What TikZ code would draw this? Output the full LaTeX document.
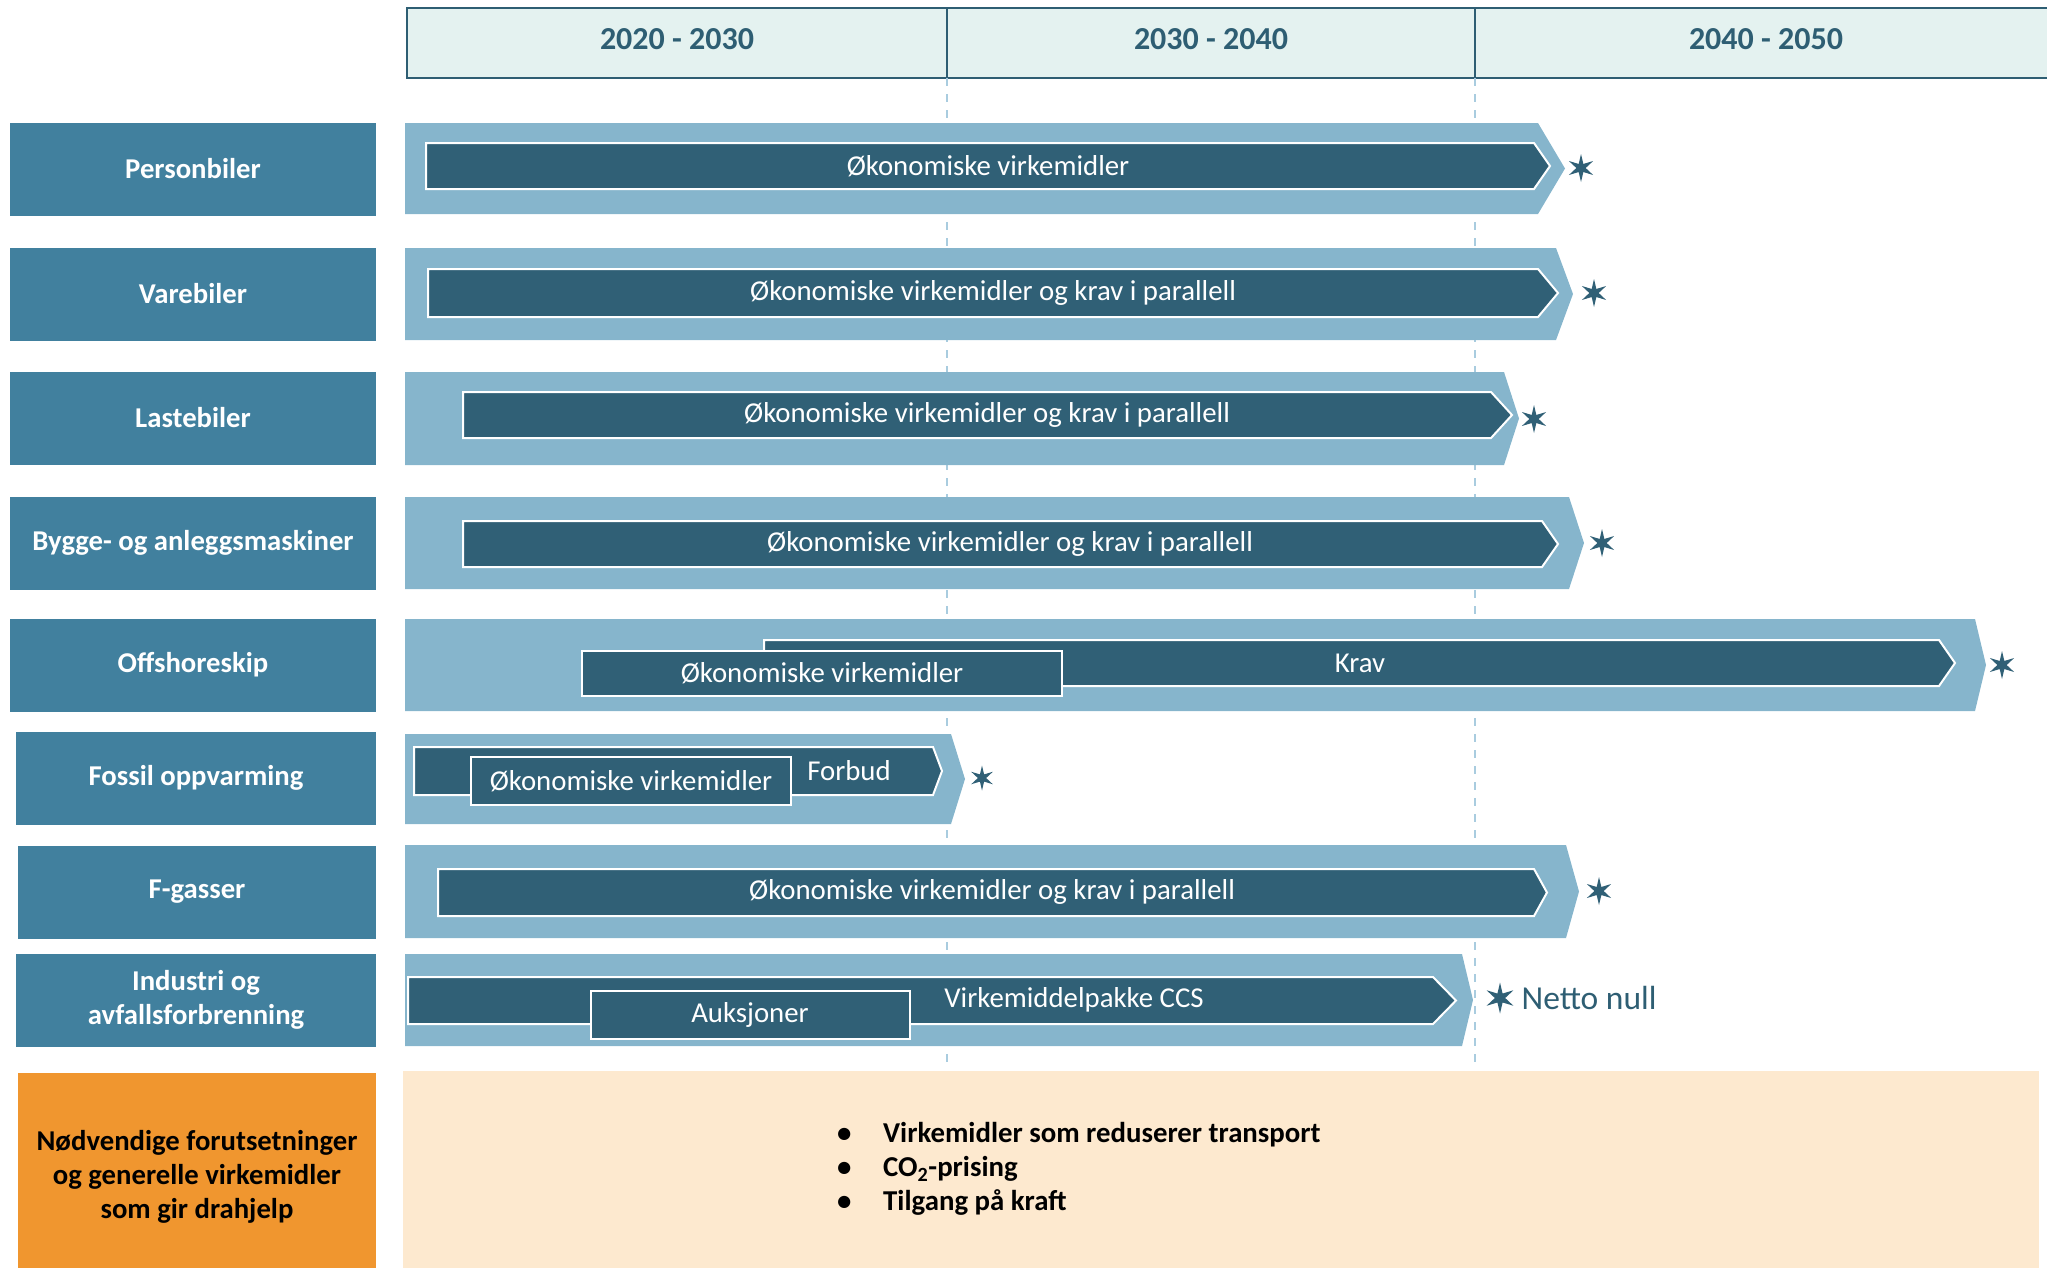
\documentclass[tikz,border=0pt]{standalone}
\usepackage{fontspec}
\setmainfont{Carlito}
\usepackage{tikz}
\usetikzlibrary{shapes.geometric,positioning}

\definecolor{labelblue}{RGB}{65,128,158}
\definecolor{barlight}{RGB}{134,181,204}
\definecolor{bardark}{RGB}{48,96,118}
\definecolor{headfill}{RGB}{228,242,240}
\definecolor{headline}{RGB}{46,94,115}
\definecolor{guideblue}{RGB}{169,204,223}
\definecolor{prereq}{RGB}{240,150,47}
\definecolor{peach}{RGB}{253,233,207}

\begin{document}
\begin{tikzpicture}[x=1pt, y=-1pt]
    \tikzstyle{headbox} = [rectangle, fill=headfill, draw=headline, line width=2.5pt, minimum height=70pt, outer sep=0pt, text depth=8pt, text=headline, font=\bfseries\fontsize{32}{38}\selectfont]
    \tikzstyle{sector} = [rectangle, fill=labelblue, text=white, align=center, inner sep=0pt, minimum height=93pt, font=\bfseries\fontsize{28.7}{34}\selectfont]
    \tikzstyle{outer} = [fill=barlight]
    \tikzstyle{inner} = [fill=bardark, draw=white, line width=2pt]
    \tikzstyle{bartext} = [text=white, inner sep=0pt, font=\fontsize{28.8}{34}\selectfont]
    \tikzstyle{tool} = [rectangle, fill=bardark, draw=white, line width=2pt, inner sep=0pt, text=white, font=\fontsize{28.8}{34}\selectfont]
    \tikzstyle{netstar} = [star, star points=6, star point ratio=3, fill=bardark, inner sep=0pt, minimum size=28pt]
    \tikzstyle{guide} = [draw=guideblue, line width=1.5pt, dash pattern=on 8pt off 8pt]

    \newcommand*{\chevron}[6][]{
        \path[#1] (#2,#3) -- (#5,#3) -- (#6,{(#3+#4)/2}) -- (#5,#4) -- (#2,#4) -- cycle;
    }

    \useasboundingbox (0,0) rectangle (2047,1267);

    \node (h1) [headbox, minimum width=540pt] at (677,43) {2020 - 2030};
    \node (h2) [headbox, minimum width=528pt] at (1211,43) {2030 - 2040};
    \node (h3) [headbox, minimum width=582pt] at (1766,43) {2040 - 2050};

    \coordinate (g1) at (947,1068);
    \coordinate (g2) at (1475,1068);
    \draw [guide] (h1.south east) -- (g1);
    \draw [guide] (h2.south east) -- (g2);

    \node (personbiler) [sector, minimum width=366pt] at (193,169) {Personbiler};
    \node (varebiler) [sector, minimum width=366pt] at (193,294) {Varebiler};
    \node (lastebiler) [sector, minimum width=366pt] at (193,418) {Lastebiler};
    \node (bygge) [sector, minimum width=366pt] at (193,543) {Bygge- og anleggsmaskiner};
    \node (offshore) [sector, minimum width=366pt] at (193,665) {Offshoreskip};
    \node (fossil) [sector, minimum width=360pt] at (196,778) {Fossil oppvarming};
    \node (fgass) [sector, minimum width=358pt] at (197,892) {F-gasser};
    \node (industri) [sector, minimum width=360pt] at (196,1000) {Industri og\\avfallsforbrenning};

    \chevron[outer]{405}{123}{214}{1538}{1565}
    \chevron[inner]{426}{143}{189}{1534}{1550}
    \node (pb-tool) [bartext] at (988,166) {Økonomiske virkemidler};
    \node (pb-star) [netstar] at (1581,168) {};

    \chevron[outer]{405}{248}{340}{1556}{1573}
    \chevron[inner]{428}{269}{317}{1538}{1558}
    \node (vb-tool) [bartext] at (993,293) {Økonomiske virkemidler og krav i parallell};
    \node (vb-star) [netstar] at (1594,293) {};

    \chevron[outer]{405}{372}{465}{1504}{1519}
    \chevron[inner]{463}{392}{438}{1491}{1512}
    \node (lb-tool) [bartext] at (987,415) {Økonomiske virkemidler og krav i parallell};
    \node (lb-star) [netstar] at (1534,419) {};

    \chevron[outer]{405}{497}{589}{1569}{1584}
    \chevron[inner]{463}{521}{567}{1542}{1558}
    \node (ba-tool) [bartext] at (1010,544) {Økonomiske virkemidler og krav i parallell};
    \node (ba-star) [netstar] at (1602,543) {};

    \chevron[outer]{405}{619}{711}{1975}{1986}
    \chevron[inner]{764}{640}{686}{1939}{1955}
    \node (os-krav) [bartext] at (1360,663) {Krav};
    \node (os-tool) [tool, minimum width=480pt, minimum height=45pt] at (822,673) {Økonomiske virkemidler};
    \node (os-star) [netstar] at (2002,665) {};

    \chevron[outer]{405}{734}{824}{951}{965}
    \chevron[inner]{414}{747}{795}{933}{942}
    \node (fo-forbud) [bartext] at (849,771) {Forbud};
    \node (fo-tool) [tool, minimum width=320pt, minimum height=48pt] at (631,781) {Økonomiske virkemidler};
    \node (fo-star) [netstar, minimum size=25pt] at (982,778) {};

    \chevron[outer]{405}{845}{938}{1566}{1579}
    \chevron[inner]{438}{869}{916}{1534}{1547}
    \node (fg-tool) [bartext] at (992,892) {Økonomiske virkemidler og krav i parallell};
    \node (fg-star) [netstar] at (1599,891) {};

    \chevron[outer]{405}{954}{1046}{1462}{1473}
    \chevron[inner]{408}{977}{1024}{1433}{1456}
    \node (in-ccs) [bartext] at (1074,1000) {Virkemiddelpakke CCS};
    \node (in-tool) [tool, minimum width=319pt, minimum height=48pt] at (750,1015) {Auksjoner};
    \node (in-star) [netstar, minimum size=31pt] at (1500,998) {};
    \node (netto) [right=16pt of in-star, inner sep=0pt, text=headline, font=\fontsize{33.5}{38}\selectfont] {Netto null};

    \node (premiss) [sector, fill=prereq, minimum width=358pt, minimum height=197pt] at (197,1171.5) {};
    \node (premiss-text) [sector, fill=none, text=black, minimum height=0pt] at (197,1177) {Nødvendige forutsetninger\\og generelle virkemidler\\som gir drahjelp};
    \node (felles) [rectangle, fill=peach, inner sep=0pt, minimum width=1636pt, minimum height=199pt] at (1221,1170.5) {};
    \node (tiltak) [anchor=west, inner sep=0pt, align=left, font=\bfseries\fontsize{28.8}{34}\selectfont] at (837,1169) {\makebox[46pt][l]{\textbullet}Virkemidler som reduserer transport\\\makebox[46pt][l]{\textbullet}CO\textsubscript{2}-prising\\\makebox[46pt][l]{\textbullet}Tilgang på kraft};
\end{tikzpicture}
\end{document}
